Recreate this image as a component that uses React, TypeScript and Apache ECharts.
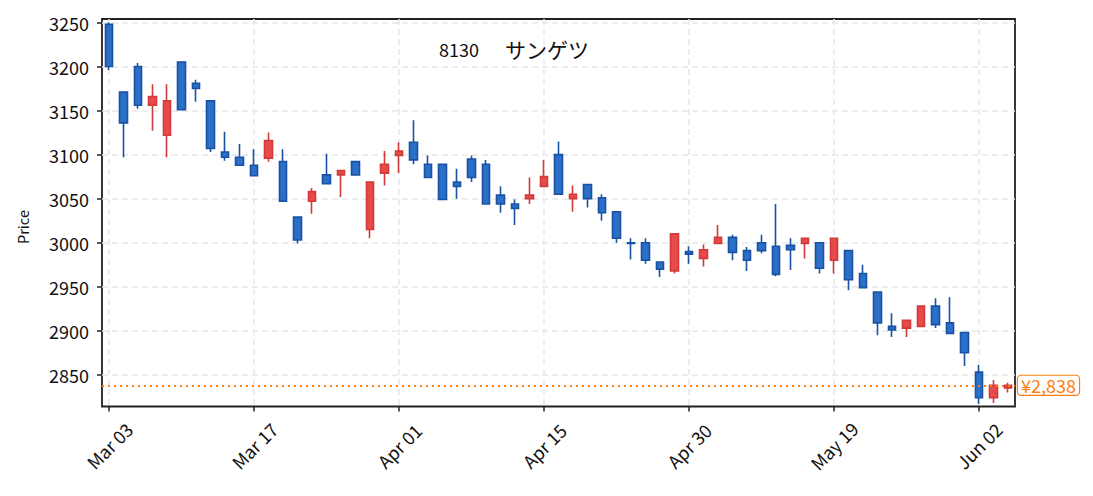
import React, { useEffect, useRef } from "react";
import * as echarts from "echarts";

const dates = [
  "Mar 03", "Mar 04", "Mar 05", "Mar 06", "Mar 07", "Mar 10", "Mar 11", "Mar 12", "Mar 13", "Mar 14",
  "Mar 17", "Mar 18", "Mar 19", "Mar 21", "Mar 24", "Mar 25", "Mar 26", "Mar 27", "Mar 28", "Mar 31",
  "Apr 01", "Apr 02", "Apr 03", "Apr 04", "Apr 07", "Apr 08", "Apr 09", "Apr 10", "Apr 11", "Apr 14",
  "Apr 15", "Apr 16", "Apr 17", "Apr 18", "Apr 21", "Apr 22", "Apr 23", "Apr 24", "Apr 25", "Apr 28",
  "Apr 30", "May 01", "May 07", "May 08", "May 09", "May 12", "May 13", "May 14", "May 15", "May 16",
  "May 19", "May 20", "May 21", "May 22", "May 23", "May 26", "May 27", "May 28", "May 29", "May 30",
  "Jun 02", "Jun 03", "Jun 04",
];

const opens = [
  3248, 3171, 3200, 3156, 3122, 3205, 3181, 3161, 3103, 3097,
  3088, 3096, 3092, 3029, 3047, 3077, 3077, 3092, 3015, 3079,
  3099, 3114, 3089, 3089, 3069, 3095, 3089, 3054, 3044, 3050,
  3064, 3100, 3050, 3066, 3051, 3035, 3000, 3000, 2978, 2968,
  2990, 2982, 2999, 3006, 2991, 3000, 2996, 2997, 2999, 3000,
  2980, 2991, 2965, 2944, 2905, 2903, 2905, 2928, 2909, 2898,
  2853, 2824, 2835,
];
const closes = [
  3200, 3136, 3156, 3166, 3161, 3151, 3175, 3107, 3097, 3088,
  3076, 3116, 3047, 3003, 3058, 3067, 3082, 3077, 3069, 3089,
  3104, 3094, 3074, 3049, 3064, 3074, 3044, 3044, 3039, 3054,
  3075, 3055, 3055, 3050, 3034, 3005, 2999, 2980, 2970, 3010,
  2987, 2992, 3006, 2989, 2980, 2991, 2964, 2992, 3005, 2971,
  3005, 2958, 2949, 2909, 2901, 2912, 2928, 2907, 2897, 2875,
  2824, 2838, 2838,
];
const lows = [
  3196, 3097, 3152, 3127, 3097, 3151, 3160, 3103, 3093, 3088,
  3076, 3092, 3047, 2999, 3033, 3067, 3052, 3077, 3005, 3065,
  3079, 3089, 3074, 3049, 3050, 3069, 3044, 3034, 3020, 3044,
  3064, 3055, 3035, 3040, 3025, 3000, 2981, 2976, 2961, 2965,
  2976, 2973, 2999, 2980, 2968, 2988, 2962, 2969, 2982, 2965,
  2965, 2946, 2949, 2895, 2893, 2893, 2905, 2903, 2897, 2860,
  2817, 2818, 2830,
];
const highs = [
  3250, 3171, 3204, 3180, 3180, 3205, 3185, 3161, 3126, 3112,
  3106, 3125, 3106, 3029, 3062, 3101, 3082, 3092, 3069, 3104,
  3114, 3139, 3099, 3089, 3084, 3099, 3094, 3064, 3049, 3074,
  3094, 3115, 3065, 3066, 3055, 3035, 3005, 3005, 2978, 3010,
  2996, 2998, 3020, 3009, 2995, 3009, 3044, 3005, 3005, 3000,
  3005, 2991, 2975, 2944, 2920, 2912, 2928, 2937, 2938, 2898,
  2861, 2844, 2841,
];

const yTickValues = [2850, 2900, 2950, 3000, 3050, 3100, 3150, 3200, 3250];
const titleCode = "8130";
const titleName = "サンゲツ";
const yName = "Price";
const FONT = "Noto Sans CJK JP";

export default function App() {
  const ref = useRef<HTMLDivElement>(null);
  useEffect(() => {
    if (!ref.current) return;
    const chart = echarts.init(ref.current, undefined, { renderer: "svg" });
    const data = opens.map((o, i) => [o, closes[i], lows[i], highs[i]]);
    const last = closes[closes.length - 1];
    const gridLine = { show: true, lineStyle: { color: "#e8e8e8", width: 1.5, type: [6, 4] as any } };
    chart.setOption({
      animation: false,
      backgroundColor: "#ffffff",
      textStyle: { fontFamily: FONT },
      title: {
        text: `{d|${titleCode}}{s| }{k|${titleName}}`,
        left: 434,
        top: 33,
        textStyle: {
          fontFamily: FONT,
          fontWeight: "normal",
          rich: {
            d: { fontSize: 18, color: "#111", fontFamily: FONT, fontWeight: "normal" },
            s: { width: 26 },
            k: { fontSize: 21, color: "#111", fontFamily: FONT, fontWeight: "normal" },
          },
        },
      },
      graphic: [
        {
          type: "text",
          x: 22,
          y: 227,
          rotation: Math.PI / 2,
          style: { text: yName, fontSize: 14.5, fill: "#111", fontFamily: FONT, align: "center", verticalAlign: "middle" },
        },
      ],
      grid: {
        left: 102,
        right: 78,
        top: 19,
        bottom: 89.5,
        show: true,
        borderColor: "#222",
        borderWidth: 1.8,
        backgroundColor: "transparent",
      },
      xAxis: {
        type: "category",
        data: dates,
        boundaryGap: true,
        axisLine: { show: false },
        axisTick: { show: true, interval: 9, alignWithLabel: true, length: 5, lineStyle: { color: "#222", width: 1.5 } },
        axisLabel: {
          interval: 9,
          rotate: 45,
          fontSize: 18,
          color: "#111",
          margin: 39,
          align: "center",
          verticalAlign: "middle",
          fontFamily: FONT,
        },
        splitLine: { ...gridLine, interval: 9, alignWithLabel: true },
      },
      yAxis: {
        type: "value",
        min: 2814,
        max: 3254,
        axisLine: { show: false },
        axisTick: { show: true, length: 5, customValues: yTickValues, lineStyle: { color: "#222", width: 1.5 } },
        axisLabel: {
          fontSize: 18,
          color: "#111",
          margin: 13,
          customValues: yTickValues,
          fontFamily: FONT,
          formatter: (v: number) => String(v),
        },
        splitLine: gridLine,
      },
      series: [
        {
          type: "candlestick",
          data,
          barWidth: 8,
          itemStyle: {
            color: "#e84a4a",
            color0: "#2c6fc8",
            borderColor: "#d23a3a",
            borderColor0: "#1a52a3",
            borderWidth: 1.6,
          },
          markLine: {
            silent: true,
            symbol: "none",
            data: [{ yAxis: last }],
            lineStyle: { color: "#ff7f0e", width: 2, type: [2, 4] as any },
            label: {
              show: true,
              position: "end",
              distance: 3,
              formatter: () => "¥" + last.toLocaleString("en-US"),
              color: "#ff7f0e",
              fontSize: 18,
              fontFamily: FONT,
              backgroundColor: "#ffffff",
              borderColor: "#ff7f0e",
              borderWidth: 1.2,
              borderRadius: 3,
              padding: [1, 3, 0, 3],
            },
          },
        },
      ],
    });
    return () => chart.dispose();
  }, []);
  return <div ref={ref} style={{ position: "fixed", left: 0, top: 0, width: 1093, height: 496 }} />;
}
